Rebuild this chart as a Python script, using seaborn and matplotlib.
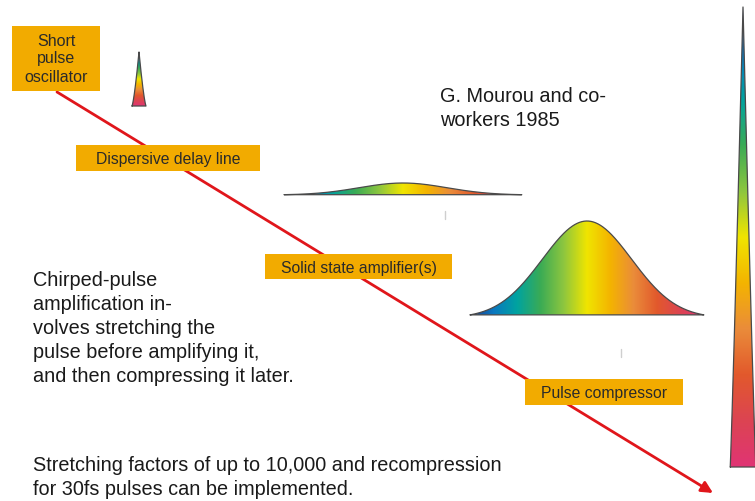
import numpy as np
import matplotlib
matplotlib.use("Agg")
import matplotlib.pyplot as plt
import seaborn as sns
import pandas as pd
from matplotlib.colors import LinearSegmentedColormap
from matplotlib.patches import Rectangle

# ---- content ----
stage_labels = ["Short\npulse\noscillator", "Dispersive delay line",
                "Solid state amplifier(s)", "Pulse compressor"]
pulse_names = ["oscillator", "stretched", "amplified", "compressed"]
pulse_amplitude = [54, 12, 97, 460]      # pulse peak heights
pulse_sigma = [2.6, 44, 44.6, 5.8]       # pulse widths (sigma)
pulse_span = [2.7, 2.7, 2.62, 2.2]       # drawn extent in sigmas
title_lines = ["G. Mourou and co-", "workers 1985"]
desc_lines = ["Chirped-pulse", "amplification in-", "volves stretching the",
              "pulse before amplifying it,", "and then compressing it later."]
footer_lines = ["Stretching factors of up to 10,000 and recompression",
                "for 30fs pulses can be implemented."]
spectrum_colors = ['#1b3a8c', '#0a78c0', '#00a3a0', '#3aab55', '#8dc63f',
                   '#f0e500', '#f4b400', '#ea8c3a', '#e2592c', '#dc4452', '#e03474']

# ---- layout ----
sns.set_theme(style="white")
plt.rcParams['font.family'] = ['Liberation Sans', 'DejaVu Sans']

fig = plt.figure(figsize=(7.55, 5.02), dpi=100)
ax = fig.add_axes([0, 0, 1, 1])

cmap = LinearSegmentedColormap.from_list('spec', spectrum_colors)

pulse_center = [139, 403, 587, 743]
pulse_base = [107, 196, 319, 468]
pulse_vertical = [True, False, False, True]
spike_power = [1.35, None, None, 1.1]

for name, amp, sig, span, cx, base, vert, pw in zip(pulse_names, pulse_amplitude, pulse_sigma,
                                                   pulse_span, pulse_center, pulse_base,
                                                   pulse_vertical, spike_power):
    hw = span * sig
    t = np.linspace(-hw, hw, 401)
    xs = cx + t
    if vert:
        ys = base - amp * (1 - np.abs(t) / hw) ** pw
    else:
        ys = base - amp * np.exp(-t ** 2 / (2 * sig ** 2))
    poly_x = np.concatenate([xs, [xs[0]]])
    poly_y = np.concatenate([ys, [ys[0]]])
    patch = plt.Polygon(np.column_stack([poly_x, poly_y]), closed=True,
                        facecolor='none', edgecolor='none')
    ax.add_patch(patch)
    if vert:
        grad = np.linspace(0, 1, 256).reshape(-1, 1)
    else:
        grad = np.linspace(0, 1, 256).reshape(1, -1)
    im = ax.imshow(grad, cmap=cmap, aspect='auto', origin='upper',
                   extent=(xs[0], xs[-1], base, base - amp), interpolation='bilinear', zorder=2)
    im.set_clip_path(patch)
    df = pd.DataFrame({'x': poly_x, 'y': poly_y})
    sns.lineplot(data=df, x='x', y='y', ax=ax, sort=False, estimator=None,
                 color='#4a4a4a', lw=0.9, zorder=3)

ax.set_xlim(0, 755)
ax.set_ylim(502, 0)
ax.axis('off')

# faint tick marks
for tx, ty in [(445, 216), (621, 354)]:
    ax.plot([tx, tx], [ty - 4, ty + 4], color='#cfcfcf', lw=1)

# red arrow
ax.annotate("", xy=(713, 494), xytext=(57, 93),
            arrowprops=dict(arrowstyle='-|>', color='#e0161b', lw=2,
                            mutation_scale=17, shrinkA=0, shrinkB=0), zorder=1)

# label boxes
boxes = [(12, 27, 88, 65), (76, 146, 184, 26), (265, 255, 187, 25), (525, 380, 158, 26)]
box_color = '#f2ab00'
for (bx, by, bw, bh), lab in zip(boxes, stage_labels):
    ax.add_patch(Rectangle((bx, by), bw, bh, facecolor=box_color, edgecolor='none', zorder=4))
    if '\n' in lab:
        for i, line in enumerate(lab.split('\n')):
            ax.text(bx + bw / 2, by + 14 + i * 18, line, ha='center', va='center',
                    fontsize=11.5, color='#2a2a2a', zorder=5)
    else:
        ax.text(bx + bw / 2, by + bh / 2 + 1, lab, ha='center', va='center',
                fontsize=11.3, color='#2a2a2a', zorder=5)

for i, line in enumerate(title_lines):
    ax.text(440, 96 + i * 24, line, ha='left', va='center', fontsize=14.3, color='#1a1a1a')

for i, line in enumerate(desc_lines):
    ax.text(33, 281 + i * 24, line, ha='left', va='center', fontsize=14.3, color='#1a1a1a')

for i, line in enumerate(footer_lines):
    ax.text(33, 466 + i * 24, line, ha='left', va='center', fontsize=14.3, color='#1a1a1a')

fig.savefig('out.png', dpi=100)
